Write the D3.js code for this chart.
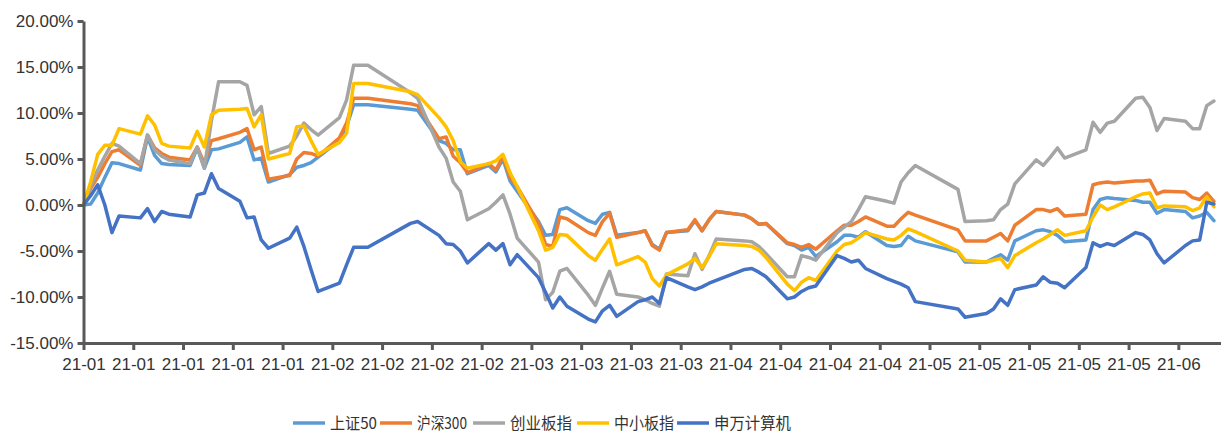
<!DOCTYPE html>
<html><head><meta charset="utf-8">
<script src="https://cdn.jsdelivr.net/npm/d3@7"></script>
<style>
html,body{margin:0;padding:0;background:#fff;}
svg{display:block;}
</style></head>
<body>
<svg id="chart" width="1221" height="437"></svg>
<script>
// Trading dates (first entry is the 0% base)
const dates = [
"2021-01-03","2021-01-04","2021-01-05","2021-01-06","2021-01-07","2021-01-08",
"2021-01-11","2021-01-12","2021-01-13","2021-01-14","2021-01-15",
"2021-01-18","2021-01-19","2021-01-20","2021-01-21","2021-01-22",
"2021-01-25","2021-01-26","2021-01-27","2021-01-28","2021-01-29",
"2021-02-01","2021-02-02","2021-02-03","2021-02-04","2021-02-05",
"2021-02-08","2021-02-09","2021-02-10","2021-02-12",
"2021-02-18","2021-02-19",
"2021-02-22","2021-02-23","2021-02-24","2021-02-25","2021-02-26",
"2021-03-01","2021-03-02","2021-03-03","2021-03-04","2021-03-05",
"2021-03-08","2021-03-09","2021-03-10","2021-03-11","2021-03-12",
"2021-03-15","2021-03-16","2021-03-17","2021-03-18","2021-03-19",
"2021-03-22","2021-03-23","2021-03-24","2021-03-25","2021-03-26",
"2021-03-29","2021-03-30","2021-03-31",
"2021-04-01","2021-04-02",
"2021-04-06","2021-04-07","2021-04-08","2021-04-09",
"2021-04-12","2021-04-13","2021-04-14","2021-04-15","2021-04-16",
"2021-04-19","2021-04-20","2021-04-21","2021-04-22","2021-04-23",
"2021-04-26","2021-04-27","2021-04-28","2021-04-29","2021-04-30",
"2021-05-06","2021-05-07",
"2021-05-10","2021-05-11","2021-05-12","2021-05-13","2021-05-14",
"2021-05-17","2021-05-18","2021-05-19","2021-05-20","2021-05-21",
"2021-05-24","2021-05-25","2021-05-26","2021-05-27","2021-05-28",
"2021-05-31",
"2021-06-01","2021-06-02","2021-06-03","2021-06-04",
"2021-06-07","2021-06-08","2021-06-09","2021-06-10","2021-06-11"
];

// Cumulative return (%) of each index
const sz50 = [
0,0.1,1.3,3.0,4.6,4.5, 3.8,7.4,5.4,4.5,4.4, 4.3,6.2,4.0,6.0,6.1, 6.8,7.4,4.9,5.1,2.5,
3.3,4.1,4.3,4.6,5.2, 7.0,8.5,10.9,10.9, 10.4,10.3, 7.0,6.7,6.0,6.0,3.4,
4.3,3.6,5.0,2.6,1.5, -1.8,-3.3,-3.2,-0.5,-0.3, -1.7,-2.0,-1.0,-0.8,-3.3, -3.0,-2.8,-4.3,-4.8,-3.0, -2.8,-1.7,-2.8,
-1.6,-0.7, -1.1,-1.5,-2.1,-2.0, -4.2,-4.4,-4.9,-4.6,-5.6, -4.0,-3.3,-3.3,-3.5,-2.9, -4.4,-4.5,-4.4,-3.4,-3.9,
-5.1,-6.2, -6.2,-5.8,-5.4,-6.0,-3.9, -2.8,-2.7,-2.9,-3.3,-4.0, -3.8,-0.5,0.6,0.8,0.7, 0.5,
0.3,0.3,-0.9,-0.5, -0.7,-1.4,-1.2,-0.8,-1.7
];
const hs300 = [
0,1.8,3.0,4.5,5.8,6.0, 4.3,7.6,6.2,5.6,5.2, 4.9,6.3,4.5,7.0,7.2, 7.9,8.3,6.0,6.3,2.8,
3.2,5.0,5.7,5.6,5.3, 7.3,8.9,11.6,11.6, 11.0,10.8, 7.2,7.4,5.3,4.6,3.5,
4.5,3.8,5.3,3.0,2.0, -2.0,-4.3,-4.5,-1.3,-1.5, -3.0,-3.3,-1.8,-0.9,-3.5, -3.0,-2.8,-4.4,-4.9,-3.0, -2.7,-1.6,-2.8,
-1.6,-0.7, -1.1,-1.5,-2.1,-2.0, -4.1,-4.3,-4.6,-4.3,-4.8, -2.8,-2.2,-2.2,-1.8,-1.3, -2.3,-2.3,-1.5,-0.8,-1.1,
-2.7,-3.9, -3.9,-3.5,-3.1,-3.9,-2.2, -0.5,-0.5,-0.7,-0.4,-1.2, -1.0,2.2,2.4,2.5,2.4, 2.6,
2.6,2.7,1.2,1.5, 1.4,0.8,0.6,1.3,0.4
];
const cyb = [
0,2.0,3.8,5.3,6.7,6.4, 4.5,7.6,6.0,5.3,4.9, 4.5,6.3,4.0,9.2,13.4, 13.4,13.0,9.8,10.7,5.6,
6.4,7.5,8.9,8.2,7.6, 9.5,11.4,15.2,15.2, 12.2,11.6, 6.3,5.1,2.5,1.5,-1.6,
-0.4,0.3,1.1,-1.0,-3.6, -6.2,-10.3,-9.5,-7.2,-6.9, -9.8,-10.9,-9.0,-7.2,-9.7, -10.0,-10.3,-10.7,-11.0,-7.5, -7.7,-5.3,-7.0,
-5.5,-3.7, -3.9,-4.0,-4.5,-5.3, -7.8,-7.8,-5.5,-5.7,-6.0, -3.0,-2.4,-1.8,-0.5,0.9, 0.4,0.2,2.5,3.5,4.3,
1.7,-1.8, -1.7,-1.6,-0.5,0.1,2.3, 4.9,4.3,5.2,6.2,5.1, 6.0,9.0,7.9,8.9,9.1, 11.6,
11.7,10.6,8.1,9.4, 9.1,8.3,8.3,10.8,11.3
];
const zxb = [
0,2.5,5.5,6.5,6.5,8.3, 7.7,9.7,8.7,6.7,6.4, 6.2,8.0,6.3,9.8,10.3, 10.4,10.5,8.5,9.8,5.0,
5.6,8.5,8.6,7.0,5.5, 6.8,7.8,13.2,13.2, 12.3,12.0, 9.5,8.5,7.0,4.7,4.0,
4.5,4.8,5.5,3.5,2.0, -2.8,-4.9,-4.6,-3.2,-3.3, -5.5,-6.0,-4.8,-3.7,-6.5, -5.6,-6.2,-8.0,-8.8,-7.6, -6.4,-5.8,-6.8,
-5.6,-4.2, -4.4,-4.5,-4.9,-5.7, -8.6,-9.3,-8.4,-7.9,-8.2, -5.0,-4.3,-4.1,-3.6,-3.0, -3.7,-3.8,-3.3,-2.6,-2.9,
-5.0,-6.0, -6.2,-6.0,-5.8,-6.8,-5.5, -4.1,-3.7,-3.2,-2.7,-3.3, -2.8,-1.3,0.0,-0.5,-0.2, 0.9,
1.2,1.3,-0.3,-0.1, -0.2,-0.6,-0.3,0.9,-0.2
];
const swjsj = [
0,1.0,2.2,0.0,-3.0,-1.2, -1.4,-0.4,-1.8,-0.7,-1.0, -1.3,1.1,1.3,3.4,1.8, 0.4,-1.4,-1.3,-3.8,-4.7,
-3.6,-2.4,-4.5,-7.0,-9.4, -8.5,-6.5,-4.6,-4.6, -2.0,-1.8, -3.3,-4.2,-4.3,-5.0,-6.3,
-4.2,-4.9,-4.2,-6.5,-5.4, -7.9,-9.5,-11.2,-10.0,-11.0, -12.4,-12.7,-11.5,-10.9,-12.1, -10.5,-10.3,-10.0,-10.7,-7.9, -8.9,-9.2,-8.9,
-8.5,-8.2, -7.0,-6.9,-7.3,-7.8, -10.2,-10.0,-9.4,-9.0,-8.8, -5.5,-5.8,-6.2,-6.0,-6.9, -8.0,-8.3,-8.6,-9.0,-10.5,
-11.3,-12.2, -11.8,-11.3,-10.2,-10.9,-9.2, -8.7,-7.8,-8.4,-8.5,-9.0, -6.8,-4.1,-4.5,-4.2,-4.4, -3.0,
-3.2,-3.8,-5.3,-6.3, -4.4,-3.9,-3.8,0.3,0.1
];

const seriesNames = ["上证50","沪深300","创业板指","中小板指","申万计算机"];
const seriesValues = [sz50, hs300, cyb, zxb, swjsj];
const seriesColors = ["#5B9BD5","#ED7D31","#A5A5A5","#FFC000","#4472C4"];
const yTicks = [-15,-10,-5,0,5,10,15,20];

const parse = d3.timeParse("%Y-%m-%d");
const parsedDates = dates.map(parse);

const svg = d3.select("#chart");
const axisFont = "'Liberation Sans', Arial, sans-serif";
const cjkFont = "'Noto Sans CJK SC', 'Liberation Sans', sans-serif";
const axisColor = "#595959";
const textColor = "#333333";

const x = d3.scaleTime()
  .domain([parse("2021-01-03"), parse("2021-06-12")])
  .range([83.5, 1221]);
const y = d3.scaleLinear().domain([-15, 20]).range([343, 21]);

// Series lines
const line = d3.line()
  .x(d => x(d.date))
  .y(d => y(d.v));

const lineLayer = svg.append("g");
seriesValues.forEach((vals, i) => {
  const pts = vals.map((v, k) => ({date: parsedDates[k], v}));
  lineLayer.append("path")
    .datum(pts)
    .attr("fill", "none")
    .attr("stroke", seriesColors[i])
    .attr("stroke-width", 3.5)
    .attr("stroke-linejoin", "round")
    .attr("stroke-linecap", "round")
    .attr("d", line);
});

// Y axis
const yAxis = svg.append("g")
  .attr("transform", "translate(83.5,0)")
  .call(d3.axisLeft(y).tickValues(yTicks).tickFormat(d => d.toFixed(2) + "%").tickSize(6).tickSizeOuter(0).tickPadding(4));
yAxis.select(".domain").attr("stroke", axisColor).attr("stroke-width", 3);
yAxis.selectAll(".tick line").attr("stroke", axisColor).attr("stroke-width", 3);
yAxis.selectAll(".tick text")
  .attr("fill", textColor)
  .style("font-family", axisFont)
  .style("font-size", "17px");

// X axis (weekly ticks)
const xAxis = svg.append("g")
  .attr("transform", "translate(0,343)")
  .call(d3.axisBottom(x).ticks(d3.timeWeek.every(1)).tickFormat(d3.timeFormat("%y-%m")).tickSize(7).tickSizeOuter(0).tickPadding(8));
xAxis.select(".domain").attr("stroke", axisColor).attr("stroke-width", 3);
xAxis.selectAll(".tick line").attr("stroke", axisColor).attr("stroke-width", 3);
xAxis.selectAll(".tick text")
  .attr("fill", textColor)
  .style("font-family", axisFont)
  .style("font-size", "17px");

// Legend: one swatch + label per series, laid out left to right
const legendStarts = [0, 87, 180, 284, 384];
const legendTextWidths = [47, 50, 62, 60, 77];
const legend = svg.append("g").attr("transform", "translate(293,423)");
seriesNames.forEach((name, i) => {
  const g = legend.append("g").attr("transform", `translate(${legendStarts[i]},0)`);
  g.append("line")
    .attr("x1", 0).attr("x2", 32).attr("y1", 0).attr("y2", 0)
    .attr("stroke", seriesColors[i]).attr("stroke-width", 3.5);
  g.append("text")
    .attr("x", 37).attr("y", 0).attr("dy", "0.35em")
    .attr("fill", textColor)
    .attr("textLength", legendTextWidths[i])
    .attr("lengthAdjust", "spacingAndGlyphs")
    .style("font-family", cjkFont)
    .style("font-size", "16px")
    .text(name);
});
</script>
</body></html>
